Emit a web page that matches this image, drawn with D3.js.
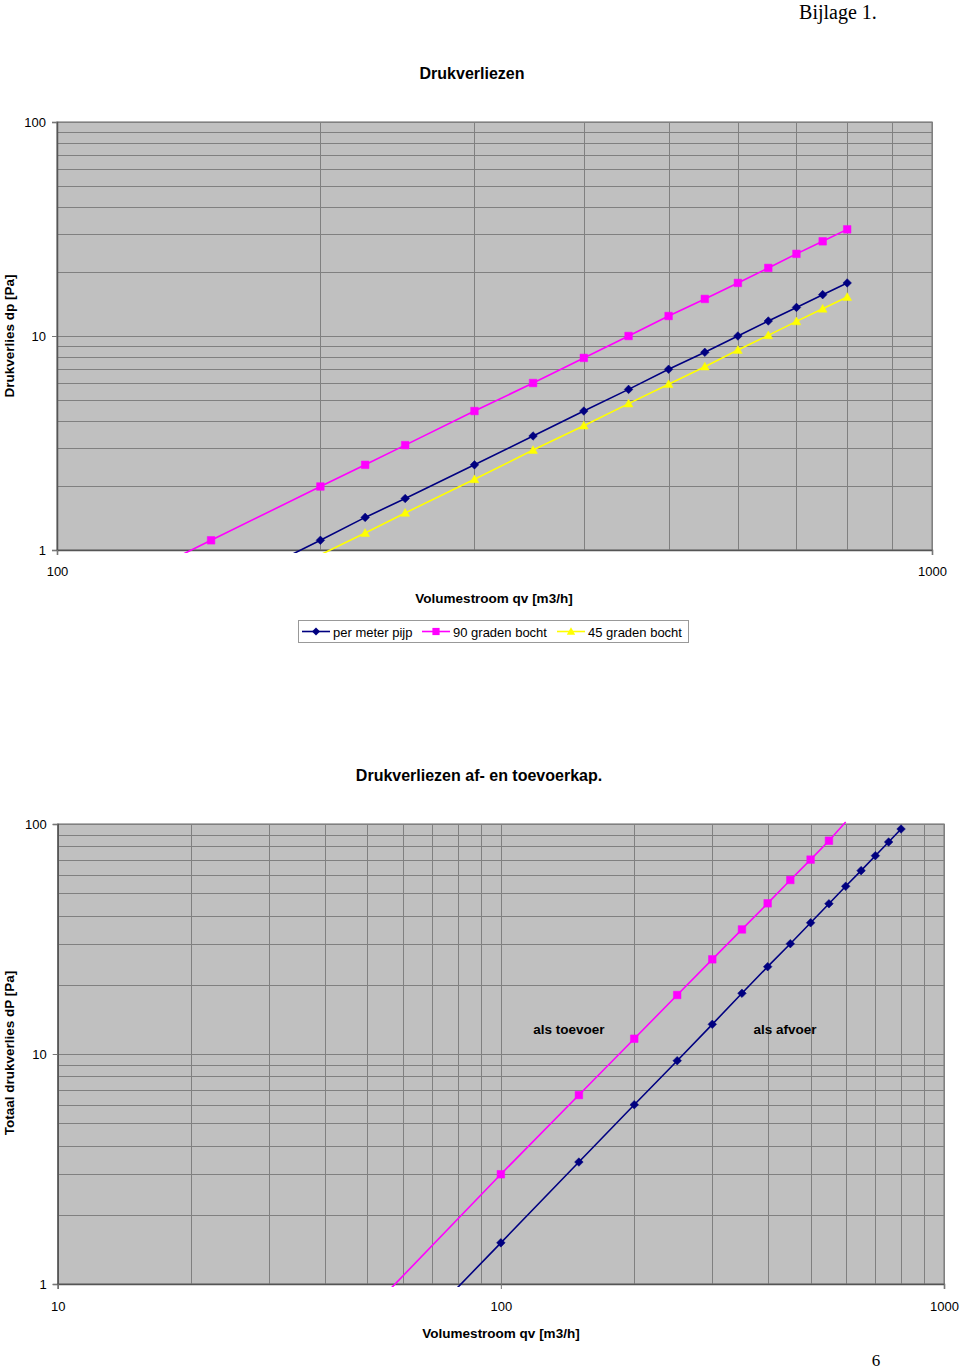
<!DOCTYPE html>
<html>
<head>
<meta charset="utf-8">
<script src="https://cdn.jsdelivr.net/npm/d3@7"></script>
<style>
  html, body { margin: 0; padding: 0; background: #fff; }
  svg { display: block; }
  text { font-family: "Liberation Sans", Arial, sans-serif; fill: #000; }
</style>
</head>
<body>
<svg id="page" width="960" height="1370"></svg>
<script>
// ---------- Data: chart 1 "Drukverliezen" ----------
const flowTop = [100, 150, 200, 225, 250, 300, 350, 400, 450, 500, 550, 600, 650, 700, 750, 800];
const perMeterPijp = [null, 0.62, 1.11, 1.42, 1.74, 2.50, 3.41, 4.46, 5.63, 6.99, 8.39, 10.0, 11.75, 13.6, 15.6, 17.7];
const graden90 = [0.49, 1.11, 1.98, 2.50, 3.09, 4.46, 6.03, 7.9, 10.0, 12.4, 14.9, 17.7, 20.8, 24.2, 27.7, 31.5];
const graden45 = [null, null, 0.95, 1.20, 1.49, 2.14, 2.93, 3.81, 4.83, 5.95, 7.19, 8.60, 10.07, 11.7, 13.4, 15.2];
const seriesTopNames = ["per meter pijp", "90 graden bocht", "45 graden bocht"];
const xTicksTop = [100, 1000];
const yTicksTop = [1, 10, 100];

// ---------- Data: chart 2 "Drukverliezen af- en toevoerkap." ----------
const flowKap = [50, 100, 150, 200, 250, 300, 350, 400, 450, 500, 550, 600, 650, 700, 750, 800];
const alsToevoer = [0.75, 3.0, 6.63, 11.65, 18.05, 25.8, 34.8, 45.2, 57.1, 70.0, 84.6, 102, null, null, null, null];
const alsAfvoer = [0.38, 1.51, 3.39, 6.02, 9.35, 13.46, 18.36, 23.97, 30.17, 37.2, 45.0, 53.6, 62.7, 72.8, 83.5, 95.1];
const xTicksKap = [10, 100, 1000];
const yTicksKap = [1, 10, 100];

const NAVY = "#000080", PINK = "#FF00FF", YELLOW = "#FFFF00";
const PLOT_BG = "#C0C0C0", GRID = "#808080";

const svg = d3.select("#page");

// Header / footer
svg.append("text").attr("x", 838).attr("y", 19).attr("text-anchor", "middle")
  .style("font-family", "'Liberation Serif', 'Times New Roman', serif").style("font-size", "20px")
  .text("Bijlage 1.");
svg.append("text").attr("x", 876).attr("y", 1366).attr("text-anchor", "middle")
  .style("font-family", "'Liberation Serif', 'Times New Roman', serif").style("font-size", "17px")
  .text("6");

function markerPath(type, size) {
  const s = size;
  if (type === "diamond") return `M0,${-s}L${s},0L0,${s}L${-s},0Z`;
  if (type === "square") return `M${-s},${-s}H${s}V${s}H${-s}Z`;
  return `M0,${-s * 1.05}L${s * 1.05},${s * 0.8}L${-s * 1.05},${s * 0.8}Z`;
}

function drawChart(cfg) {
  const g = svg.append("g");
  const x = d3.scaleLog().domain(cfg.xDomain).range([cfg.left, cfg.right]);
  const y = d3.scaleLog().domain(cfg.yDomain).range([cfg.bottom, cfg.top]);

  g.append("rect").attr("x", cfg.left).attr("y", cfg.top)
    .attr("width", cfg.right - cfg.left).attr("height", cfg.bottom - cfg.top)
    .attr("fill", PLOT_BG);

  const gridVals = (dom) => {
    const out = [];
    for (let d = dom[0]; d < dom[1]; d *= 10) for (let m = 1; m <= 9; m++) out.push(d * m);
    out.push(dom[1]);
    return out;
  };
  g.append("g").selectAll("line").data(gridVals(cfg.yDomain)).join("line")
    .attr("x1", cfg.left).attr("x2", cfg.right)
    .attr("y1", d => Math.round(y(d)) + 0.5).attr("y2", d => Math.round(y(d)) + 0.5)
    .attr("stroke", GRID).attr("stroke-width", 1);
  g.append("g").selectAll("line").data(gridVals(cfg.xDomain)).join("line")
    .attr("y1", cfg.top).attr("y2", cfg.bottom)
    .attr("x1", d => Math.round(x(d)) + 0.5).attr("x2", d => Math.round(x(d)) + 0.5)
    .attr("stroke", GRID).attr("stroke-width", 1);

  g.append("rect").attr("x", cfg.left).attr("y", cfg.top)
    .attr("width", cfg.right - cfg.left).attr("height", cfg.bottom - cfg.top)
    .attr("fill", "none").attr("stroke", GRID).attr("stroke-width", 1.2);

  const yAxis = d3.axisLeft(y).tickValues(cfg.yTicks).tickFormat(d3.format("d"))
    .tickSize(5).tickPadding(6);
  const ya = g.append("g").attr("transform", `translate(${cfg.left},0)`).call(yAxis);
  const xAxis = d3.axisBottom(x).tickValues(cfg.xTicks).tickFormat(d3.format("d"))
    .tickSize(5).tickPadding(cfg.xPad);
  const xa = g.append("g").attr("transform", `translate(0,${cfg.bottom})`).call(xAxis);
  [ya, xa].forEach(a => {
    a.select(".domain").attr("stroke", "#555").attr("stroke-width", 1.5);
    a.selectAll(".tick line").attr("stroke", "#777");
    a.selectAll(".tick text").style("font-size", "13px").style("font-family", "'Liberation Sans', Arial, sans-serif").attr("fill", "#000");
  });

  const clipId = "clip" + cfg.id;
  svg.append("clipPath").attr("id", clipId).append("rect")
    .attr("x", cfg.left).attr("y", cfg.top - 3)
    .attr("width", cfg.right - cfg.left).attr("height", cfg.bottom - cfg.top + 6);

  const line = d3.line().defined(d => d.v != null).x(d => x(d.q)).y(d => y(d.v));
  cfg.series.forEach(s => {
    const pts = cfg.flow.map((q, i) => ({ q, v: s.values[i] }));
    g.append("path").datum(pts).attr("d", line).attr("fill", "none")
      .attr("stroke", s.color).attr("stroke-width", 1.6).attr("clip-path", `url(#${clipId})`);
    const inside = pts.filter(d => d.v != null && d.v >= cfg.yDomain[0] && d.v <= cfg.yDomain[1]);
    g.append("g").selectAll("path").data(inside).join("path")
      .attr("transform", d => `translate(${x(d.q)},${y(d.v)})`)
      .attr("d", markerPath(s.marker, s.size))
      .attr("fill", s.color).attr("stroke", s.color).attr("stroke-width", 0.5);
  });

  g.append("text").attr("x", cfg.titleX).attr("y", cfg.titleY).attr("text-anchor", "middle")
    .style("font-size", "16px").style("font-weight", "bold").text(cfg.title);
  g.append("text").attr("x", cfg.xTitleX).attr("y", cfg.xTitleY).attr("text-anchor", "middle")
    .style("font-size", "13.5px").style("font-weight", "bold").text("Volumestroom qv [m3/h]");
  g.append("text").attr("transform", `translate(${cfg.yTitleX},${cfg.yTitleY}) rotate(-90)`)
    .attr("text-anchor", "middle").style("font-size", "13.5px").style("font-weight", "bold")
    .text(cfg.yTitle);
  return { g, x, y };
}

// Chart 1
const c1 = drawChart({
  id: 1, left: 57, right: 932, top: 122, bottom: 550,
  xDomain: [100, 1000], yDomain: [1, 100], xTicks: xTicksTop, yTicks: yTicksTop, xPad: 12,
  flow: flowTop,
  series: [
    { name: seriesTopNames[0], values: perMeterPijp, color: NAVY, marker: "diamond", size: 4.3 },
    { name: seriesTopNames[1], values: graden90, color: PINK, marker: "square", size: 3.8 },
    { name: seriesTopNames[2], values: graden45, color: YELLOW, marker: "triangle", size: 4.2 }
  ],
  title: "Drukverliezen", titleX: 472, titleY: 79,
  xTitleX: 494, xTitleY: 603, yTitleX: 14, yTitleY: 336,
  yTitle: "Drukverlies dp [Pa]"
});

// Legend for chart 1
const legend = svg.append("g");
legend.append("rect").attr("x", 298.5).attr("y", 620.5).attr("width", 390).attr("height", 22)
  .attr("fill", "#fff").attr("stroke", "#999").attr("stroke-width", 1);
const legItems = [
  { name: seriesTopNames[0], color: NAVY, marker: "diamond", size: 4, x0: 302 },
  { name: seriesTopNames[1], color: PINK, marker: "square", size: 3.6, x0: 422 },
  { name: seriesTopNames[2], color: YELLOW, marker: "triangle", size: 4, x0: 557 }
];
legItems.forEach(it => {
  legend.append("line").attr("x1", it.x0).attr("x2", it.x0 + 28).attr("y1", 631.5).attr("y2", 631.5)
    .attr("stroke", it.color).attr("stroke-width", 1.6);
  legend.append("path").attr("transform", `translate(${it.x0 + 14},631.5)`)
    .attr("d", markerPath(it.marker, it.size)).attr("fill", it.color);
  legend.append("text").attr("x", it.x0 + 31).attr("y", 636.5).style("font-size", "13px").text(it.name);
});

// Chart 2
const c2 = drawChart({
  id: 2, left: 57.7, right: 944, top: 824, bottom: 1284,
  xDomain: [10, 1000], yDomain: [1, 100], xTicks: xTicksKap, yTicks: yTicksKap, xPad: 13,
  flow: flowKap,
  series: [
    { name: "als toevoer", values: alsToevoer, color: PINK, marker: "square", size: 3.8 },
    { name: "als afvoer", values: alsAfvoer, color: NAVY, marker: "diamond", size: 4.3 }
  ],
  title: "Drukverliezen af- en toevoerkap.", titleX: 479, titleY: 781,
  xTitleX: 501, xTitleY: 1338, yTitleX: 14, yTitleY: 1053,
  yTitle: "Totaal drukverlies dP [Pa]"
});
c2.g.append("text").attr("x", 569).attr("y", 1034).attr("text-anchor", "middle")
  .style("font-size", "13.5px").style("font-weight", "bold").text("als toevoer");
c2.g.append("text").attr("x", 785).attr("y", 1034).attr("text-anchor", "middle")
  .style("font-size", "13.5px").style("font-weight", "bold").text("als afvoer");
</script>
</body>
</html>
